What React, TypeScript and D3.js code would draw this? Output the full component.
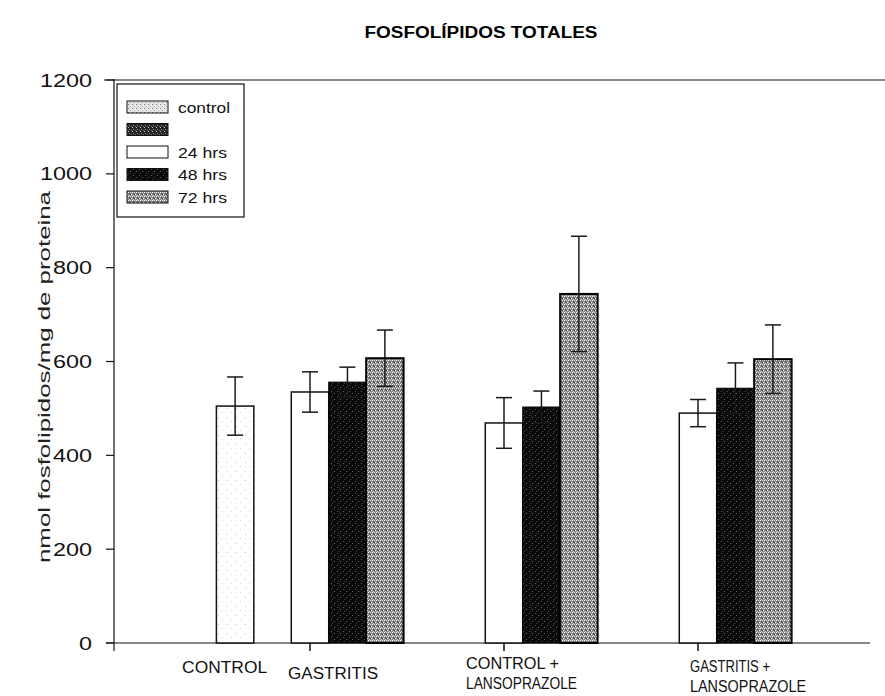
import React from "react";
import * as d3 from "d3";

// ---- data ----
const groups = ["GASTRITIS", "CONTROL + LANSOPRAZOLE", "GASTRITIS + LANSOPRAZOLE"];
const groupPos = [1, 2, 3];
const controlMean = [505, null, null];
const controlErr = [62, null, null];
const hrs24Mean = [535, 469, 490];
const hrs24Err = [43, 54, 29];
const hrs48Mean = [556, 503, 543];
const hrs48Err = [32, 34, 54];
const hrs72Mean = [607, 744, 605];
const hrs72Err = [60, 123, 73];
const yTicks = [0, 200, 400, 600, 800, 1000, 1200];
const legendLabels = ["control", "", "24 hrs", "48 hrs", "72 hrs"];

const W = 885;
const H = 696;
const FONT = "'Liberation Sans', Arial, Helvetica, sans-serif";

export default function App() {
  const y = d3.scaleLinear().domain([0, 1200]).range([643, 80]);
  const x = d3.scaleLinear().domain([0, 4]).range([116, 892]);
  const barW = (x(1) - x(0)) * 0.193;

  const series = [
    { key: "control", mean: controlMean, err: controlErr, slot: -2, fill: "url(#patControl)", stroke: "#111", sw: 1.5 },
    { key: "24", mean: hrs24Mean, err: hrs24Err, slot: 0, fill: "#ffffff", stroke: "#111", sw: 1.5 },
    { key: "48", mean: hrs48Mean, err: hrs48Err, slot: 1, fill: "url(#pat48)", stroke: "#000", sw: 1 },
    { key: "72", mean: hrs72Mean, err: hrs72Err, slot: 2, fill: "url(#pat72)", stroke: "#000", sw: 2 },
  ];

  const bars: any[] = [];
  const errs: any[] = [];
  series.forEach((s) => {
    s.mean.forEach((v, i) => {
      if (v == null) return;
      const cx = x(groupPos[i]) + s.slot * barW;
      bars.push(
        <rect key={s.key + i} x={cx - barW / 2} y={y(v)} width={barW} height={y(0) - y(v)}
          fill={s.fill} stroke={s.stroke} strokeWidth={s.sw} />
      );
      const e = s.err[i] as number;
      errs.push(
        <g key={"e" + s.key + i} stroke="#1a1a1a" strokeWidth={1.5}>
          <line x1={cx} x2={cx} y1={y(v + e)} y2={y(v - e)} />
          <line x1={cx - 8} x2={cx + 8} y1={y(v + e)} y2={y(v + e)} />
          <line x1={cx - 8} x2={cx + 8} y1={y(v - e)} y2={y(v - e)} />
        </g>
      );
    });
  });

  const legendFills = ["url(#patControl2)", "url(#patDark)", "#ffffff", "url(#pat48)", "url(#pat72)"];
  const legendRowY = (i: number) => 107 + i * 22.5;

  const labelLayout = [
    { lines: ["CONTROL"], x: x(1) - 2 * barW - 53, y: 673, w: [85] },
    { lines: ["GASTRITIS"], x: x(1) - 22, y: 679, w: [90] },
    { lines: ["CONTROL +", "LANSOPRAZOLE"], x: x(2) - 38, y: 669, w: [93, 111] },
    { lines: ["GASTRITIS +", "LANSOPRAZOLE"], x: x(3) - 8, y: 672, w: [80, 116] },
  ];

  return (
    <svg width={W} height={H} style={{ position: "absolute", left: 0, top: 0, background: "#fff" }} fontFamily={FONT}>
      <defs>
        <pattern id="patControl" patternUnits="userSpaceOnUse" width="9" height="9">
          <rect width="9" height="9" fill="#ffffff" />
          <rect x="2" y="3" width="1" height="1" fill="#c8c8c8" />
          <rect x="6" y="7" width="1" height="1" fill="#d4d4d4" />
        </pattern>
        <pattern id="patControl2" patternUnits="userSpaceOnUse" width="4" height="4">
          <rect width="4" height="4" fill="#e6e6e6" />
          <rect x="0" y="0" width="1" height="1" fill="#777" />
          <rect x="2" y="2" width="1" height="1" fill="#999" />
          <rect x="3" y="1" width="1" height="1" fill="#fff" />
        </pattern>
        <pattern id="patDark" patternUnits="userSpaceOnUse" width="4" height="4">
          <rect width="4" height="4" fill="#222" />
          <rect x="1" y="1" width="1" height="1" fill="#999" />
          <rect x="3" y="2" width="1" height="1" fill="#777" />
          <rect x="0" y="3" width="1" height="1" fill="#bbb" />
        </pattern>
        <pattern id="pat48" patternUnits="userSpaceOnUse" width="6" height="6">
          <rect width="6" height="6" fill="#0a0a0a" />
          <rect x="1" y="1" width="1" height="1" fill="#555" />
          <rect x="4" y="3" width="1" height="1" fill="#666" />
          <rect x="2" y="5" width="1" height="1" fill="#444" />
        </pattern>
        <pattern id="pat72" patternUnits="userSpaceOnUse" width="4" height="4">
          <rect width="4" height="4" fill="#8a8a8a" />
          <rect x="0" y="0" width="1" height="1" fill="#fff" />
          <rect x="2" y="0" width="1" height="1" fill="#ddd" />
          <rect x="1" y="1" width="1" height="1" fill="#444" />
          <rect x="3" y="2" width="1" height="1" fill="#fff" />
          <rect x="1" y="3" width="1" height="1" fill="#bbb" />
          <rect x="2" y="2" width="1" height="1" fill="#333" />
        </pattern>
      </defs>

      {/* title */}
      <text x={481} y={38} textAnchor="middle" fontSize={16} fontWeight="bold" fill="#000"
        textLength={233} lengthAdjust="spacingAndGlyphs">FOSFOLÍPIDOS TOTALES</text>

      {/* frame / axes */}
      <line x1={104} x2={885} y1={y(1200)} y2={y(1200)} stroke="#111" strokeWidth={1.2} />
      <line x1={114} x2={114} y1={y(1200) - 1} y2={y(0) + 8} stroke="#111" strokeWidth={1.2} />
      <line x1={106} x2={870} y1={y(0)} y2={y(0)} stroke="#111" strokeWidth={1.2} />

      {yTicks.map((t) => (
        <g key={t}>
          <line x1={106} x2={114} y1={y(t)} y2={y(t)} stroke="#111" strokeWidth={1.2} />
          <text x={92} y={y(t) + 6.5} textAnchor="end" fontSize={18} fill="#111"
            textLength={13 * String(t).length} lengthAdjust="spacingAndGlyphs">{t}</text>
        </g>
      ))}
      {groupPos.map((g) => (
        <line key={g} x1={x(g)} x2={x(g)} y1={y(0)} y2={y(0) + 8} stroke="#111" strokeWidth={1.5} />
      ))}

      {/* y label */}
      <text transform={`translate(50, 377) rotate(-90)`} textAnchor="middle" fontSize={16} fill="#222"
        textLength={372} lengthAdjust="spacingAndGlyphs">nmol fosfolipidos/mg de proteina</text>

      {/* bars */}
      {bars}
      {errs}

      {/* x labels */}
      {labelLayout.map((l, i) => (
        <g key={i}>
          {l.lines.map((ln, j) => (
            <text key={j} x={l.x} y={l.y + j * 20} fontSize={16} fill="#111"
              textLength={l.w[j]} lengthAdjust="spacingAndGlyphs">{ln}</text>
          ))}
        </g>
      ))}

      {/* legend */}
      <rect x={117} y={84} width={127} height={133} fill="#fff" stroke="#111" strokeWidth={1.2} />
      {legendLabels.map((lab, i) => (
        <g key={i}>
          <rect x={127} y={legendRowY(i) - 6} width={41} height={12} fill={legendFills[i]} stroke="#111" strokeWidth={1} />
          {lab && (
            <text x={178} y={legendRowY(i) + 5.5} fontSize={15} fill="#111"
              textLength={lab === "control" ? 52 : 49} lengthAdjust="spacingAndGlyphs">{lab}</text>
          )}
        </g>
      ))}
    </svg>
  );
}
